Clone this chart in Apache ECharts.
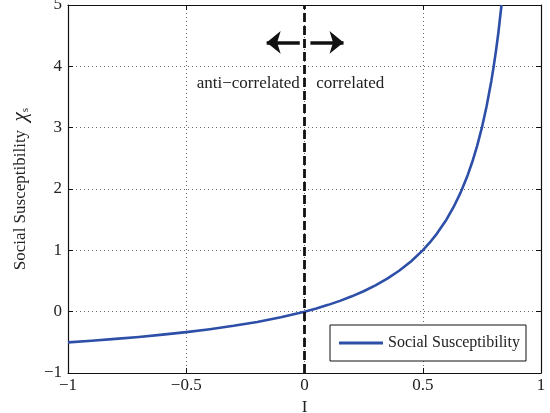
<!DOCTYPE html>
<html><head><meta charset="utf-8">
<script src="https://cdn.jsdelivr.net/npm/echarts@6/dist/echarts.min.js"></script>
<style>html,body{margin:0;padding:0;background:#fff}#c{width:550px;height:413px}</style>
</head><body><div id="c"></div>
<script>
var xValues = [-1, -0.9, -0.8, -0.7, -0.6, -0.5, -0.4, -0.3, -0.2, -0.1, 0, 0.05, 0.1, 0.15, 0.2, 0.25, 0.3, 0.35, 0.4, 0.45, 0.5, 0.53, 0.56, 0.6, 0.63, 0.66, 0.69, 0.71, 0.73, 0.75, 0.77, 0.79, 0.8, 0.81, 0.82, 0.833];
var yValues = [-0.5, -0.474, -0.444, -0.412, -0.375, -0.333, -0.286, -0.231, -0.167, -0.091, 0, 0.053, 0.111, 0.176, 0.25, 0.333, 0.429, 0.538, 0.667, 0.818, 1.0, 1.128, 1.273, 1.5, 1.703, 1.941, 2.226, 2.448, 2.704, 3.0, 3.348, 3.762, 4.0, 4.263, 4.556, 5.0];
var xTicks = [-1, -0.5, 0, 0.5, 1];
var yTicks = [-1, 0, 1, 2, 3, 4, 5];
var seriesName = 'Social Susceptibility';
var annotations = [
  {text: 'anti\u2212correlated', x: -0.02, y: 3.72, align: 'right'},
  {text: 'correlated', x: 0.05, y: 3.72, align: 'left'}
];
var arrows = [
  {from: [-0.02, 4.39], to: [-0.16, 4.39]},
  {from: [0.025, 4.39], to: [0.165, 4.39]}
];

var FONT = 'Liberation Serif, Times New Roman, serif';
var FS = 17;
var fmt = function (v) { return String(v).replace('-', '\u2212'); };
var pts = xValues.map(function (x, i) { return [x, yValues[i]]; });

var chart = echarts.init(document.getElementById('c'), null, {renderer: 'canvas'});
var gridLine = {show: true, lineStyle: {color: '#666', type: [1, 3], width: 1}};
var axisLine = {show: true, onZero: false, lineStyle: {color: '#111', width: 1.2}};
var tick = {show: true, inside: true, length: 5, lineStyle: {color: '#111'}};
chart.setOption({
  animation: false,
  backgroundColor: '#fff',
  textStyle: {fontFamily: FONT},
  grid: {left: 68, right: 9, top: 5, bottom: 40, containLabel: false, outerBoundsMode: 'none'},
  xAxis: [{
    type: 'value', min: -1, max: 1, interval: 0.5,
    name: 'I', nameLocation: 'middle', nameGap: 24,
    nameTextStyle: {fontFamily: FONT, fontSize: FS, color: '#222'},
    axisLine: axisLine, axisTick: tick, splitLine: gridLine,
    axisLabel: {formatter: fmt, fontFamily: FONT, fontSize: FS, color: '#222', margin: 4}
  }, {
    type: 'value', min: -1, max: 1, interval: 0.5, position: 'top',
    axisLine: axisLine, axisTick: tick, splitLine: {show: false}, axisLabel: {show: false}
  }],
  yAxis: [{
    type: 'value', min: -1, max: 5, interval: 1,
    name: '{a|Social Susceptibility  }{c|\u03c7}{s|s}', nameLocation: 'middle', nameGap: 37,
    nameTextStyle: {fontFamily: FONT, fontSize: FS, color: '#222',
      rich: {a: {fontFamily: FONT, fontSize: FS, color: '#222'},
             c: {fontFamily: FONT, fontSize: 21, fontStyle: 'italic', color: '#222'},
             s: {fontFamily: FONT, fontSize: 11, color: '#222', verticalAlign: 'bottom', padding: [9, 0, 0, 0]}}},
    axisLine: axisLine, axisTick: tick, splitLine: gridLine,
    axisLabel: {formatter: fmt, fontFamily: FONT, fontSize: FS, color: '#222', margin: 6}
  }, {
    type: 'value', min: -1, max: 5, interval: 1, position: 'right',
    axisLine: axisLine, axisTick: tick, splitLine: {show: false}, axisLabel: {show: false}
  }],
  legend: {
    data: [seriesName], right: 24, bottom: 52,
    icon: 'rect', itemWidth: 44, itemHeight: 3, itemGap: 6,
    padding: [10, 6, 10, 9],
    borderColor: '#111', borderWidth: 1, backgroundColor: '#fff',
    textStyle: {fontFamily: FONT, fontSize: 16, color: '#222'}
  },
  series: [{
    name: seriesName, type: 'line', data: pts, showSymbol: false, symbol: 'none',
    smooth: false, clip: true,
    lineStyle: {color: '#2d4fa8', width: 2.6, join: 'round'}, itemStyle: {color: '#2d4fa8'}, z: 3,
    markLine: {
      silent: true, symbol: ['none', 'none'], animation: false,
      label: {show: false},
      lineStyle: {color: '#111', type: [9, 4], width: 2.8},
      data: [{xAxis: 0}]
    }
  }, {
    type: 'line', data: [], silent: true,
    markLine: {
      silent: true, animation: false, symbol: ['none', 'arrow'], symbolSize: [17, 14],
      label: {show: false},
      lineStyle: {color: '#111', type: 'solid', width: 3.5},
      data: arrows.map(function (a) { return [{coord: a.from}, {coord: a.to}]; })
    },
    markPoint: {
      silent: true, symbol: 'circle', symbolSize: 0,
      data: annotations.map(function (a) {
        return {coord: [a.x, a.y], label: {show: true, formatter: a.text, position: a.align === 'right' ? 'left' : 'right', distance: 0,
          fontFamily: FONT, fontSize: FS, color: '#222'}};
      })
    }
  }]
});
</script></body></html>
